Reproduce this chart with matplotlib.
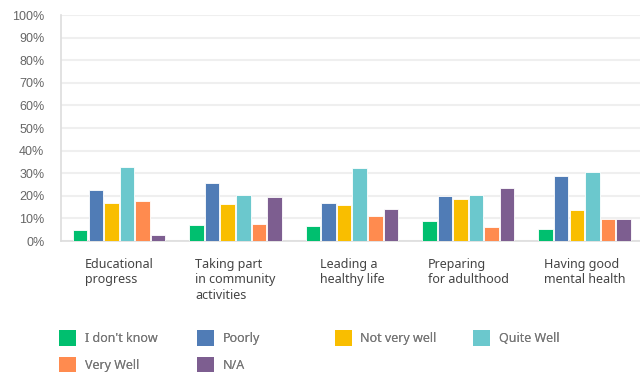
import numpy as np
import matplotlib
matplotlib.use('Agg')
import matplotlib.pyplot as plt
from matplotlib.patches import Patch

# Survey categories (x axis) and answer options (series)
categories = [
    "Educational\nprogress",
    "Taking part\nin community\nactivities",
    "Leading a\nhealthy life",
    "Preparing\nfor adulthood",
    "Having good\nmental health",
]
answers = ["I don't know", "Poorly", "Not very well", "Quite Well", "Very Well", "N/A"]
colors = ["#00BF6F", "#507CB6", "#F9BE00", "#6BC8CD", "#FF8B4F", "#7D5E90"]

# Percentages per answer, one value per category
dont_know = [4.7, 7.3, 6.8, 9.0, 5.3]
poorly = [22.8, 25.9, 17.0, 20.1, 28.6]
not_very_well = [17.0, 16.4, 15.9, 18.5, 13.9]
quite_well = [32.9, 20.6, 32.4, 20.6, 30.4]
very_well = [17.6, 7.4, 11.1, 6.2, 9.6]
n_a = [2.7, 19.7, 14.2, 23.3, 9.6]
series = [dont_know, poorly, not_very_well, quite_well, very_well, n_a]

yticks = list(range(0, 101, 10))
ytick_labels = [f"{t}%" for t in yticks]

fig = plt.figure(figsize=(6.4, 3.72), dpi=100)
ax = fig.add_axes([0.0953, 0.352, 0.909, 0.6075])

x = np.arange(len(categories))
pitch = 0.134
width = 0.125
for i, vals in enumerate(series):
    offset = (i - (len(series) - 1) / 2) * pitch
    ax.bar(x + offset, vals, width, color=colors[i], edgecolor='white',
           linewidth=0.6, zorder=3)

# Axes styling
ax.set_ylim(0, 100)
ax.set_xlim(-0.5, len(categories) - 0.5)
ax.set_yticks(yticks)
ax.set_yticklabels(ytick_labels, fontsize=9, color='#666666', family='Liberation Sans')
ax.tick_params(axis='y', length=0, pad=12)
ax.set_xticks(x)
ax.set_xticklabels(categories, fontsize=9, color='#444444', family='Noto Sans',
                   linespacing=1.25)
plt.setp(ax.get_xticklabels(), multialignment='left')
ax.tick_params(axis='x', length=0, pad=12)
ax.grid(axis='y', color='#EFEFEF', linewidth=1.5, zorder=0)
for side in ['top', 'right']:
    ax.spines[side].set_visible(False)
ax.spines['left'].set_color('#DDDDDD')
ax.spines['bottom'].set_color('#DDDDDD')
ax.spines['left'].set_linewidth(1.2)
ax.spines['bottom'].set_linewidth(1.2)

# Legend: four fixed-width columns, filled row by row
handles = [Patch(facecolor=c, edgecolor='none', label=a) for a, c in zip(answers, colors)]
col_x = [0.092, 0.308, 0.523, 0.739]
ncol = 4
for col in range(ncol):
    col_handles = handles[col::ncol]
    leg = fig.legend(handles=col_handles, loc='upper left',
                     bbox_to_anchor=(col_x[col], 0.112), frameon=False,
                     borderpad=0, borderaxespad=0, handlelength=1.35,
                     handleheight=1.5, handletextpad=0.7, labelspacing=0.9,
                     prop={'family': 'Noto Sans', 'size': 9})
    for t in leg.get_texts():
        t.set_color('#777777')
    fig.add_artist(leg)

fig.savefig('out.png', dpi=100)
